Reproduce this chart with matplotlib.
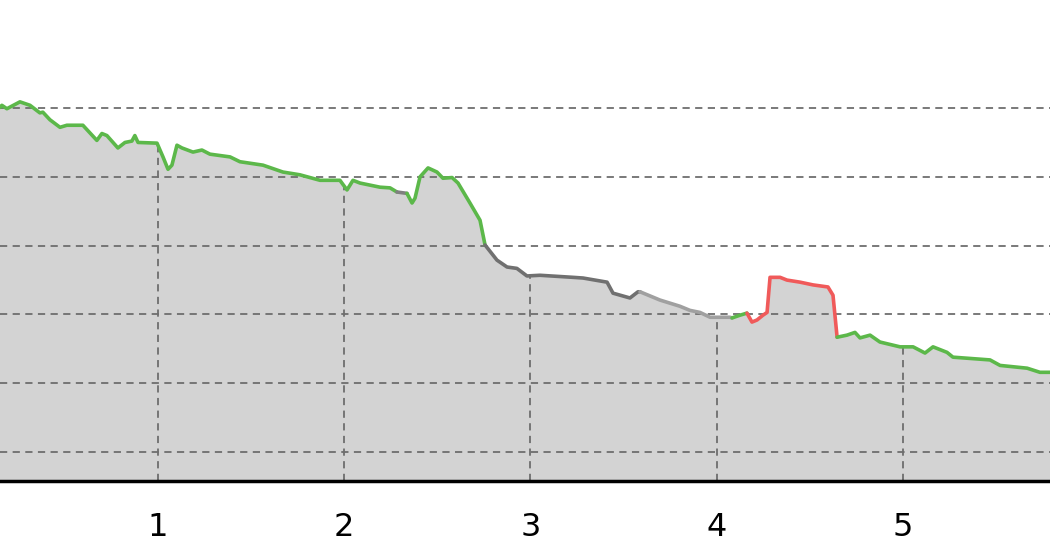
import matplotlib.pyplot as plt

# distance along the route [km] and elevation [m]
km = [0.152, 0.162, 0.189, 0.259, 0.313, 0.366, 0.382, 0.420, 0.474, 0.511,
      0.597, 0.672, 0.699, 0.726, 0.785, 0.823, 0.860, 0.876, 0.893, 0.995,
      1.027, 1.054, 1.075, 1.102, 1.129, 1.188, 1.236, 1.279, 1.387, 1.440,
      1.564, 1.671, 1.762, 1.870, 1.977, 2.015, 2.047, 2.085, 2.192, 2.246,
      2.283, 2.337, 2.364, 2.380, 2.407, 2.450, 2.498, 2.530, 2.579, 2.611,
      2.675, 2.729, 2.756, 2.820, 2.874, 2.927, 2.981, 3.051, 3.228, 3.282,
      3.411, 3.443, 3.534, 3.577, 3.588, 3.695, 3.802, 3.856, 3.910, 3.964,
      4.071, 4.082, 4.125, 4.162, 4.189, 4.216, 4.248, 4.270, 4.286, 4.340,
      4.377, 4.447, 4.517, 4.597, 4.624, 4.646, 4.699, 4.742, 4.769, 4.823,
      4.876, 4.984, 5.054, 5.118, 5.161, 5.236, 5.268, 5.467, 5.521, 5.666,
      5.735, 5.789]
elev = [150.1, 150.4, 149.9, 150.9, 150.4, 149.3, 149.4, 148.3, 147.2, 147.5,
        147.5, 145.3, 146.3, 146.0, 144.2, 145.0, 145.2, 146.0, 145.0, 144.9,
        142.9, 141.1, 141.7, 144.6, 144.2, 143.6, 143.9, 143.3, 142.9, 142.2,
        141.7, 140.7, 140.3, 139.5, 139.5, 138.1, 139.5, 139.1, 138.5, 138.4,
        137.8, 137.6, 136.2, 136.9, 140.0, 141.3, 140.7, 139.8, 139.9, 139.1,
        136.2, 133.7, 130.1, 127.9, 126.9, 126.7, 125.6, 125.7, 125.4, 125.3,
        124.7, 123.1, 122.4, 123.3, 123.3, 122.1, 121.2, 120.6, 120.3, 119.6,
        119.6, 119.5, 119.9, 120.2, 118.9, 119.2, 119.9, 120.3, 125.4, 125.4,
        125.0, 124.7, 124.3, 124.0, 122.8, 116.7, 117.0, 117.4, 116.6, 117.0,
        116.0, 115.3, 115.3, 114.4, 115.3, 114.5, 113.8, 113.4, 112.6, 112.2,
        111.6, 111.6]

# colour of each stretch, starting at the given km
seg_start = [0.152, 2.283, 2.337, 2.756, 3.588, 4.082, 4.162, 4.646]
seg_color = ['#5cb84a', '#808080', '#5cb84a', '#707070', '#a0a0a0',
             '#5cb84a', '#f05a5a', '#5cb84a']

ticks = [1, 2, 3, 4, 5]
grid_elev = [100, 110, 120, 130, 140, 150]


def main():
    fig = plt.figure(figsize=(10.5, 5.6), dpi=100)
    ax = fig.add_axes([0, 0.141, 1, 0.859])

    fill = ax.fill_between(km, elev, 90, color='#d3d3d3', zorder=1)

    ends = seg_start[1:] + [km[-1]]
    for start, end, c in zip(seg_start, ends, seg_color):
        xs = [k for k in km if start <= k <= end]
        ys = [e for k, e in zip(km, elev) if start <= k <= end]
        ax.plot(xs, ys, color=c, lw=2.6, solid_capstyle='round', zorder=3)

    ax.set_xlim(0.152, 5.789)
    ax.set_ylim(95.8, 165.7)
    ax.set_xticks(ticks)
    ax.set_yticks(grid_elev)
    ax.set_yticklabels([])
    ax.grid(True, color='#6e6e6e', linestyle=(0, (4, 3)), lw=1.3, zorder=2)
    ax.set_axisbelow(False)
    # vertical grid only under the profile
    for gl in ax.get_xgridlines():
        gl.set_clip_path(fill.get_paths()[0], fill.get_transform())
    ax.tick_params(axis='both', length=0, pad=22)
    for lab in ax.get_xticklabels():
        lab.set_fontsize(23)

    for side in ['top', 'left', 'right']:
        ax.spines[side].set_visible(False)
    ax.spines['bottom'].set_linewidth(2.5)
    ax.spines['bottom'].set_zorder(4)

    fig.savefig('out.png')


if __name__ == "__main__":
    main()
